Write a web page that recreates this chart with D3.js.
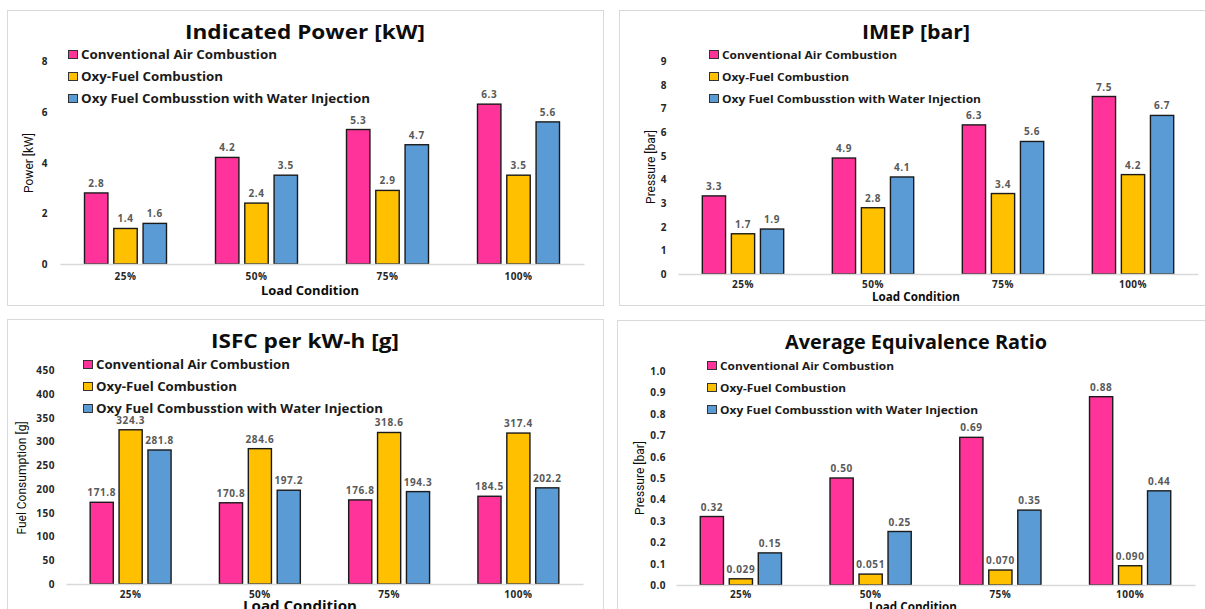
<!DOCTYPE html>
<html>
<head>
<meta charset="utf-8">
<script src="https://cdn.jsdelivr.net/npm/d3@7"></script>
<style>
  html, body { margin: 0; padding: 0; background: #ffffff; }
  svg { display: block; font-family: "Open Sans", "DejaVu Sans", sans-serif; }
</style>
</head>
<body>
<svg id="chart" width="1205" height="609"></svg>
<script>
// ---- data ----
const loads = ["25%", "50%", "75%", "100%"];
const seriesNames = [
  "Conventional Air Combustion",
  "Oxy-Fuel Combustion",
  "Oxy Fuel Combusstion with Water Injection"
];
const seriesColors = ["#FF3399", "#FFC000", "#5B9BD5"];

// Indicated power [kW]
const powerAir   = [2.8, 4.2, 5.3, 6.3];
const powerOxy   = [1.4, 2.4, 2.9, 3.5];
const powerWater = [1.6, 3.5, 4.7, 5.6];
const powerTicks = [0, 2, 4, 6, 8];

// IMEP [bar]
const imepAir   = [3.3, 4.9, 6.3, 7.5];
const imepOxy   = [1.7, 2.8, 3.4, 4.2];
const imepWater = [1.9, 4.1, 5.6, 6.7];
const imepTicks = [0, 1, 2, 3, 4, 5, 6, 7, 8, 9];

// ISFC per kW-h [g]
const isfcAir   = [171.8, 170.8, 176.8, 184.5];
const isfcOxy   = [324.3, 284.6, 318.6, 317.4];
const isfcWater = [281.8, 197.2, 194.3, 202.2];
const isfcTicks = [0, 50, 100, 150, 200, 250, 300, 350, 400, 450];

// Average equivalence ratio
const phiAir   = [0.32, 0.50, 0.69, 0.88];
const phiOxy   = [0.029, 0.051, 0.070, 0.090];
const phiWater = [0.15, 0.25, 0.35, 0.44];
const phiTicks = [0, 0.1, 0.2, 0.3, 0.4, 0.5, 0.6, 0.7, 0.8, 0.9, 1.0];

// ---- panel layouts ----
const panels = [
  {
    title: "Indicated Power [kW]", yTitle: "Power [kW]",
    series: [powerAir, powerOxy, powerWater],
    formats: [".1f", ".1f", ".1f"], tickFormat: "d", ticks: powerTicks,
    frame: [7.5, 10.5, 596, 295],
    x: [60, 584], y: [264, 61],
    titleX: 305, titleY: 39, titleSize: 20, titleW: 240,
    legendX: 68, legendY: 59, legendSize: 12.3, legendStep: 22, legendW: [196, 142, 289],
    yTitleX: 33, yTitleY: 163,
    xTitleX: 310, xTitleY: 295, xTitleSize: 13, xTitleW: 98,
    tickRight: 48, catY: 280
  },
  {
    title: "IMEP [bar]", yTitle: "Pressure [bar]",
    series: [imepAir, imepOxy, imepWater],
    formats: [".1f", ".1f", ".1f"], tickFormat: "d", ticks: imepTicks,
    frame: [619.5, 10.5, 600, 295],
    x: [678, 1198], y: [274, 61],
    titleX: 916, titleY: 39, titleSize: 20, titleW: 108,
    legendX: 709, legendY: 59, legendSize: 11.3, legendStep: 22, legendW: [175, 127, 259],
    yTitleX: 655, yTitleY: 167,
    xTitleX: 916, xTitleY: 301, xTitleSize: 11.8, xTitleW: 88,
    tickRight: 667, catY: 288
  },
  {
    title: "ISFC per kW-h [g]", yTitle: "Fuel Consumption  [g]",
    series: [isfcAir, isfcOxy, isfcWater],
    formats: [".1f", ".1f", ".1f"], tickFormat: "d", ticks: isfcTicks,
    frame: [7.5, 319.5, 596, 300],
    x: [66, 583], y: [584, 370],
    titleX: 305, titleY: 348, titleSize: 20, titleW: 188,
    legendX: 83, legendY: 369, legendSize: 12.3, legendStep: 22, legendW: [194, 141, 287],
    yTitleX: 26, yTitleY: 478,
    xTitleX: 300, xTitleY: 611, xTitleSize: 14, xTitleW: 114,
    tickRight: 55, catY: 598
  },
  {
    title: "Average Equivalence Ratio", yTitle: "Pressure [bar]",
    series: [phiAir, phiOxy, phiWater],
    formats: [".2f", ".3f", ".2f"], tickFormat: ".1f", ticks: phiTicks,
    frame: [617.5, 320.5, 600, 300],
    x: [676, 1195], y: [585, 371],
    titleX: 916, titleY: 349, titleSize: 20, titleW: 262,
    legendX: 707, legendY: 370, legendSize: 11.3, legendStep: 22, legendW: [174, 126, 258],
    yTitleX: 644, yTitleY: 478,
    xTitleX: 913, xTitleY: 611, xTitleSize: 12, xTitleW: 88,
    tickRight: 666, catY: 598
  }
];

const svg = d3.select("#chart");

panels.forEach(p => {
  const g = svg.append("g");

  // panel frame
  g.append("rect")
    .attr("x", p.frame[0]).attr("y", p.frame[1])
    .attr("width", p.frame[2]).attr("height", p.frame[3])
    .attr("fill", "#ffffff").attr("stroke", "#d9d9d9").attr("stroke-width", 1);

  const yMax = p.ticks[p.ticks.length - 1];
  const x0 = d3.scaleBand().domain(loads).range(p.x).paddingInner(0).paddingOuter(0);
  const groupW = x0.bandwidth() * 0.626;
  const x1 = d3.scaleBand().domain(d3.range(seriesNames.length))
    .range([0, groupW]).paddingInner(0.2).paddingOuter(0);
  const y = d3.scaleLinear().domain([0, yMax]).range(p.y);

  // y axis tick labels (no line, no ticks)
  const yAxis = d3.axisLeft(y).tickValues(p.ticks)
    .tickFormat(d3.format(p.tickFormat)).tickSize(0).tickPadding(0);
  const ya = g.append("g").attr("transform", `translate(${p.tickRight},0)`).call(yAxis);
  ya.select(".domain").remove();
  ya.selectAll("text")
    .attr("font-family", "'Open Sans', sans-serif")
    .attr("font-weight", 700).attr("font-size", 10).attr("letter-spacing", 0.5)
    .attr("fill", "#262626")
    .attr("dy", "0.35em");

  // bars
  const groups = g.selectAll(".grp").data(loads).join("g")
    .attr("transform", d => `translate(${x0(d) + (x0.bandwidth() - groupW) / 2},0)`);

  groups.each(function (load, li) {
    const gg = d3.select(this);
    p.series.forEach((vals, si) => {
      const v = vals[li];
      gg.append("rect")
        .attr("x", x1(si)).attr("y", y(v))
        .attr("width", x1.bandwidth()).attr("height", y(0) - y(v))
        .attr("fill", seriesColors[si])
        .attr("stroke", "#1a1a1a").attr("stroke-width", 1.4);
      gg.append("text")
        .attr("x", x1(si) + x1.bandwidth() / 2).attr("y", y(v) - 6)
        .attr("text-anchor", "middle")
        .attr("font-weight", 700).attr("font-size", 10)
        .attr("letter-spacing", 0.6)
        .attr("fill", "#595959")
        .text(d3.format(p.formats[si])(v));
    });
  });

  // x axis line + category labels
  const xAxis = d3.axisBottom(x0).tickSize(0).tickPadding(0);
  const xa = g.append("g").attr("transform", `translate(0,${y(0)})`).call(xAxis);
  xa.select(".domain").attr("stroke", "#d9d9d9").attr("stroke-width", 1.6);
  xa.selectAll("text")
    .attr("font-family", "'Open Sans', sans-serif")
    .attr("font-weight", 700).attr("font-size", 10).attr("letter-spacing", 0.5)
    .attr("fill", "#262626")
    .attr("y", p.catY - y(0)).attr("dy", 0);

  // title
  g.append("text")
    .attr("x", p.titleX).attr("y", p.titleY)
    .attr("text-anchor", "middle")
    .attr("font-weight", 700).attr("font-size", p.titleSize).attr("fill", "#0d0d0d")
    .attr("textLength", p.titleW).attr("lengthAdjust", "spacingAndGlyphs")
    .text(p.title);

  // legend
  seriesNames.forEach((name, si) => {
    const ly = p.legendY + si * p.legendStep;
    g.append("rect")
      .attr("x", p.legendX + 0.5).attr("y", ly - 8.5)
      .attr("width", 9).attr("height", 8)
      .attr("fill", seriesColors[si]).attr("stroke", "#333").attr("stroke-width", 1);
    g.append("text")
      .attr("x", p.legendX + 13).attr("y", ly)
      .attr("font-weight", 700).attr("font-size", p.legendSize).attr("fill", "#1a1a1a")
      .attr("textLength", p.legendW[si]).attr("lengthAdjust", "spacingAndGlyphs")
      .text(name);
  });

  // y axis title
  g.append("text")
    .attr("transform", `translate(${p.yTitleX},${p.yTitleY}) rotate(-90)`)
    .attr("text-anchor", "middle")
    .attr("font-family", "Roboto, 'Liberation Sans Narrow', sans-serif")
    .attr("font-size", 12).attr("fill", "#0d0d0d")
    .text(p.yTitle);

  // x axis title
  g.append("text")
    .attr("x", p.xTitleX).attr("y", p.xTitleY)
    .attr("text-anchor", "middle")
    .attr("font-weight", 700).attr("font-size", p.xTitleSize).attr("fill", "#0d0d0d")
    .attr("textLength", p.xTitleW).attr("lengthAdjust", "spacingAndGlyphs")
    .text("Load Condition");
});
</script>
</body>
</html>
